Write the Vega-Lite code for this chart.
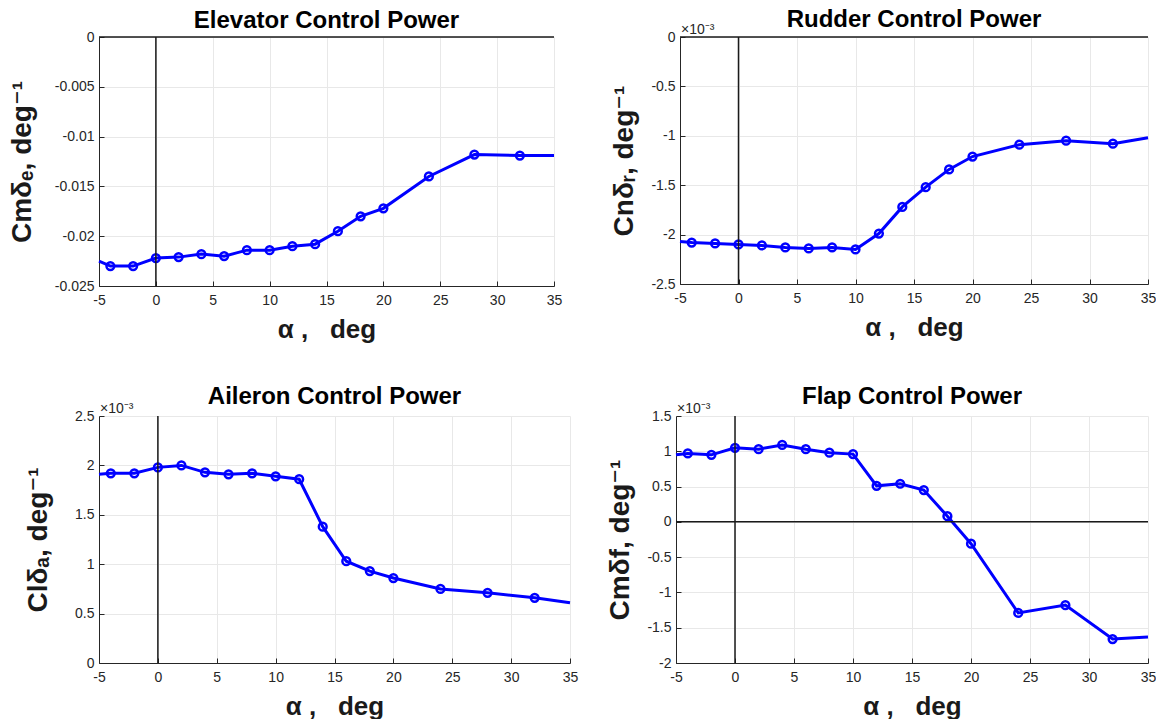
{
  "$schema": "https://vega.github.io/schema/vega-lite/v6.json",
  "padding": {"left": 8, "top": 8, "right": 0, "bottom": 0},
  "background": "white",
  "config": {
    "view": {"stroke": null},
    "font": "Liberation Sans",
    "axis": {
      "domainColor": "#262626",
      "domainWidth": 1,
      "tickColor": "#262626",
      "tickSize": -5,
      "labelFontSize": 14,
      "labelColor": "#262626",
      "labelFont": "Liberation Sans",
      "labelOverlap": false,
      "labelFlush": false,
      "titleFont": "Liberation Sans, DejaVu Sans",
      "titleFontSize": 28,
      "titleFontWeight": "bold",
      "titleColor": "#1a1a1a",
      "gridColor": "#e8e8e8",
      "gridWidth": 1
    },
    "axisX": {"titleFontSize": 26},
    "title": {"fontSize": 24, "fontWeight": "bold", "font": "Liberation Sans", "color": "#000000", "anchor": "middle", "frame": "group"}
  },
  "datasets": {
    "elev": [
      {"alpha": -5, "value": -0.0225}, {"alpha": -4, "value": -0.0230}, {"alpha": -2, "value": -0.0230},
      {"alpha": 0, "value": -0.0222}, {"alpha": 2, "value": -0.0221}, {"alpha": 4, "value": -0.0218},
      {"alpha": 6, "value": -0.0220}, {"alpha": 8, "value": -0.0214}, {"alpha": 10, "value": -0.0214},
      {"alpha": 12, "value": -0.0210}, {"alpha": 14, "value": -0.0208}, {"alpha": 16, "value": -0.0195},
      {"alpha": 18, "value": -0.0180}, {"alpha": 20, "value": -0.0172}, {"alpha": 24, "value": -0.0140},
      {"alpha": 28, "value": -0.0118}, {"alpha": 32, "value": -0.0119}, {"alpha": 35, "value": -0.0119}
    ],
    "rud": [
      {"alpha": -5, "value": -2.07}, {"alpha": -4, "value": -2.08}, {"alpha": -2, "value": -2.09},
      {"alpha": 0, "value": -2.10}, {"alpha": 2, "value": -2.11}, {"alpha": 4, "value": -2.13},
      {"alpha": 6, "value": -2.14}, {"alpha": 8, "value": -2.13}, {"alpha": 10, "value": -2.15},
      {"alpha": 12, "value": -1.99}, {"alpha": 14, "value": -1.72}, {"alpha": 16, "value": -1.52},
      {"alpha": 18, "value": -1.34}, {"alpha": 20, "value": -1.21}, {"alpha": 24, "value": -1.09},
      {"alpha": 28, "value": -1.05}, {"alpha": 32, "value": -1.08}, {"alpha": 35, "value": -1.02}
    ],
    "ail": [
      {"alpha": -5, "value": 1.91}, {"alpha": -4, "value": 1.92}, {"alpha": -2, "value": 1.92},
      {"alpha": 0, "value": 1.98}, {"alpha": 2, "value": 2.00}, {"alpha": 4, "value": 1.93},
      {"alpha": 6, "value": 1.91}, {"alpha": 8, "value": 1.92}, {"alpha": 10, "value": 1.89},
      {"alpha": 12, "value": 1.86}, {"alpha": 14, "value": 1.38}, {"alpha": 16, "value": 1.03},
      {"alpha": 18, "value": 0.93}, {"alpha": 20, "value": 0.86}, {"alpha": 24, "value": 0.75},
      {"alpha": 28, "value": 0.71}, {"alpha": 32, "value": 0.66}, {"alpha": 35, "value": 0.61}
    ],
    "flap": [
      {"alpha": -5, "value": 0.95}, {"alpha": -4, "value": 0.97}, {"alpha": -2, "value": 0.95},
      {"alpha": 0, "value": 1.05}, {"alpha": 2, "value": 1.03}, {"alpha": 4, "value": 1.09},
      {"alpha": 6, "value": 1.03}, {"alpha": 8, "value": 0.98}, {"alpha": 10, "value": 0.96},
      {"alpha": 12, "value": 0.51}, {"alpha": 14, "value": 0.54}, {"alpha": 16, "value": 0.45},
      {"alpha": 18, "value": 0.08}, {"alpha": 20, "value": -0.31}, {"alpha": 24, "value": -1.29},
      {"alpha": 28, "value": -1.18}, {"alpha": 32, "value": -1.66}, {"alpha": 35, "value": -1.63}
    ],
    "origin": [{"ref": 0}]
  },
  "spacing": 43,
  "vconcat": [
    {
      "hconcat": [
        {
          "width": 455, "height": 249,
          "title": {"text": "Elevator Control Power", "offset": -3},
          "layer": [
            {"data": {"name": "elev"}, "mark": {"type": "line", "color": "#0000ff", "strokeWidth": 3},
             "encoding": {
               "x": {"field": "alpha", "type": "quantitative", "scale": {"domain": [-5, 35], "nice": false, "zero": false},
                     "axis": {"values": [-5, 0, 5, 10, 15, 20, 25, 30, 35], "title": "α ,\u00a0\u00a0\u00a0deg", "labelPadding": 12, "titlePadding": 9, "labelExpr": "replace(format(datum.value, '~g'), '\u2212', '-')"}},
               "y": {"field": "value", "type": "quantitative", "scale": {"domain": [-0.025, 0], "nice": false, "zero": false},
                     "axis": {"values": [-0.025, -0.02, -0.015, -0.01, -0.005, 0], "title": "Cmδₑ, deg⁻¹", "labelPadding": 10, "titlePadding": 18, "labelExpr": "replace(format(datum.value, '~g'), '\u2212', '-')"}}
             }},
            {"data": {"name": "elev"}, "transform": [{"filter": "datum.alpha > -5 && datum.alpha < 35"}], "mark": {"type": "point", "shape": "circle", "filled": false, "color": "#0000ff", "strokeWidth": 2.5, "size": 60, "opacity": 1},
             "encoding": {"x": {"field": "alpha", "type": "quantitative"}, "y": {"field": "value", "type": "quantitative"}}},
            {"data": {"name": "origin"}, "mark": {"type": "rule", "color": "#1a1a1a", "strokeWidth": 1.5}, "encoding": {"x": {"field": "ref", "type": "quantitative"}}},
            {"data": {"name": "origin"}, "mark": {"type": "rule", "color": "#1a1a1a", "strokeWidth": 1.5}, "encoding": {"y": {"field": "ref", "type": "quantitative"}}}
          ]
        },
        {
          "width": 468, "height": 247,
          "title": {"text": "Rudder Control Power", "offset": -9},
          "layer": [
            {"data": {"name": "rud"}, "mark": {"type": "line", "color": "#0000ff", "strokeWidth": 3},
             "encoding": {
               "x": {"field": "alpha", "type": "quantitative", "scale": {"domain": [-5, 35], "nice": false, "zero": false},
                     "axis": {"values": [-5, 0, 5, 10, 15, 20, 25, 30, 35], "title": "α ,\u00a0\u00a0\u00a0deg", "labelPadding": 12, "titlePadding": 9, "labelExpr": "replace(format(datum.value, '~g'), '\u2212', '-')"}},
               "y": {"field": "value", "type": "quantitative", "scale": {"domain": [-2.5, 0], "nice": false, "zero": false},
                     "axis": {"values": [-2.5, -2, -1.5, -1, -0.5, 0], "title": "Cnδᵣ, deg⁻¹", "labelPadding": 10, "titlePadding": 12, "labelExpr": "replace(format(datum.value, '~g'), '\u2212', '-')"}}
             }},
            {"data": {"name": "rud"}, "transform": [{"filter": "datum.alpha > -5 && datum.alpha < 35"}], "mark": {"type": "point", "shape": "circle", "filled": false, "color": "#0000ff", "strokeWidth": 2.5, "size": 60, "opacity": 1},
             "encoding": {"x": {"field": "alpha", "type": "quantitative"}, "y": {"field": "value", "type": "quantitative"}}},
            {"data": {"name": "origin"}, "mark": {"type": "rule", "color": "#1a1a1a", "strokeWidth": 1.5}, "encoding": {"x": {"field": "ref", "type": "quantitative"}}},
            {"data": {"name": "origin"}, "mark": {"type": "rule", "color": "#1a1a1a", "strokeWidth": 1.5}, "encoding": {"y": {"field": "ref", "type": "quantitative"}}},
            {"data": {"name": "origin"}, "mark": {"type": "text", "text": "×10⁻³", "align": "left", "baseline": "alphabetic", "dx": 1, "dy": -3, "fontSize": 14, "color": "#262626"},
             "encoding": {"x": {"datum": -5, "type": "quantitative"}, "y": {"datum": 0, "type": "quantitative"}}}
          ]
        }
      ],
      "spacing": 126,
      "bounds": "flush"
    },
    {
      "hconcat": [
        {
          "width": 471, "height": 247,
          "title": {"text": "Aileron Control Power", "offset": -7},
          "layer": [
            {"data": {"name": "ail"}, "mark": {"type": "line", "color": "#0000ff", "strokeWidth": 3},
             "encoding": {
               "x": {"field": "alpha", "type": "quantitative", "scale": {"domain": [-5, 35], "nice": false, "zero": false},
                     "axis": {"values": [-5, 0, 5, 10, 15, 20, 25, 30, 35], "title": "α ,\u00a0\u00a0\u00a0deg", "labelPadding": 12, "titlePadding": 9, "labelExpr": "replace(format(datum.value, '~g'), '\u2212', '-')"}},
               "y": {"field": "value", "type": "quantitative", "scale": {"domain": [0, 2.5], "nice": false, "zero": false},
                     "axis": {"values": [0, 0.5, 1, 1.5, 2, 2.5], "title": "Clδₐ, deg⁻¹", "labelPadding": 10, "titlePadding": 22, "labelExpr": "replace(format(datum.value, '~g'), '\u2212', '-')"}}
             }},
            {"data": {"name": "ail"}, "transform": [{"filter": "datum.alpha > -5 && datum.alpha < 35"}], "mark": {"type": "point", "shape": "circle", "filled": false, "color": "#0000ff", "strokeWidth": 2.5, "size": 60, "opacity": 1},
             "encoding": {"x": {"field": "alpha", "type": "quantitative"}, "y": {"field": "value", "type": "quantitative"}}},
            {"data": {"name": "origin"}, "mark": {"type": "rule", "color": "#1a1a1a", "strokeWidth": 1.5}, "encoding": {"x": {"field": "ref", "type": "quantitative"}}},
            {"data": {"name": "origin"}, "mark": {"type": "text", "text": "×10⁻³", "align": "left", "baseline": "alphabetic", "dx": 1, "dy": -3, "fontSize": 14, "color": "#262626"},
             "encoding": {"x": {"datum": -5, "type": "quantitative"}, "y": {"datum": 2.5, "type": "quantitative"}}}
          ]
        },
        {
          "width": 472, "height": 247,
          "title": {"text": "Flap Control Power", "offset": -7},
          "layer": [
            {"data": {"name": "flap"}, "mark": {"type": "line", "color": "#0000ff", "strokeWidth": 3},
             "encoding": {
               "x": {"field": "alpha", "type": "quantitative", "scale": {"domain": [-5, 35], "nice": false, "zero": false},
                     "axis": {"values": [-5, 0, 5, 10, 15, 20, 25, 30, 35], "title": "α ,\u00a0\u00a0\u00a0deg", "labelPadding": 12, "titlePadding": 9, "labelExpr": "replace(format(datum.value, '~g'), '\u2212', '-')"}},
               "y": {"field": "value", "type": "quantitative", "scale": {"domain": [-2, 1.5], "nice": false, "zero": false},
                     "axis": {"values": [-2, -1.5, -1, -0.5, 0, 0.5, 1, 1.5], "title": "Cmδf, deg⁻¹", "labelPadding": 10, "titlePadding": 12, "labelExpr": "replace(format(datum.value, '~g'), '\u2212', '-')"}}
             }},
            {"data": {"name": "flap"}, "transform": [{"filter": "datum.alpha > -5 && datum.alpha < 35"}], "mark": {"type": "point", "shape": "circle", "filled": false, "color": "#0000ff", "strokeWidth": 2.5, "size": 60, "opacity": 1},
             "encoding": {"x": {"field": "alpha", "type": "quantitative"},
                          "y": {"field": "value", "type": "quantitative", "axis": {"values": [-2, -1.5, -1, -0.5, 0, 0.5, 1, 1.5], "title": "Cmδf, deg⁻¹", "labelPadding": 10, "titlePadding": 12, "labelExpr": "replace(format(datum.value, '~g'), '\u2212', '-')"}}}},
            {"data": {"name": "origin"}, "mark": {"type": "rule", "color": "#1a1a1a", "strokeWidth": 1.5}, "encoding": {"x": {"field": "ref", "type": "quantitative"}}},
            {"data": {"name": "origin"}, "mark": {"type": "rule", "color": "#1a1a1a", "strokeWidth": 1.5},
             "encoding": {"y": {"field": "ref", "type": "quantitative", "axis": {"values": [-2, -1.5, -1, -0.5, 0, 0.5, 1, 1.5], "title": "Cmδf, deg⁻¹", "labelPadding": 10, "titlePadding": 12, "labelExpr": "replace(format(datum.value, '~g'), '\u2212', '-')"}}}},
            {"data": {"name": "origin"}, "mark": {"type": "text", "text": "×10⁻³", "align": "left", "baseline": "alphabetic", "dx": 1, "dy": -3, "fontSize": 14, "color": "#262626"},
             "encoding": {"x": {"datum": -5, "type": "quantitative"},
                          "y": {"datum": 1.5, "type": "quantitative", "axis": {"values": [-2, -1.5, -1, -0.5, 0, 0.5, 1, 1.5], "title": "Cmδf, deg⁻¹", "labelPadding": 10, "titlePadding": 12, "labelExpr": "replace(format(datum.value, '~g'), '\u2212', '-')"}}}}
          ]
        }
      ],
      "spacing": 106,
      "bounds": "flush"
    }
  ]
}
